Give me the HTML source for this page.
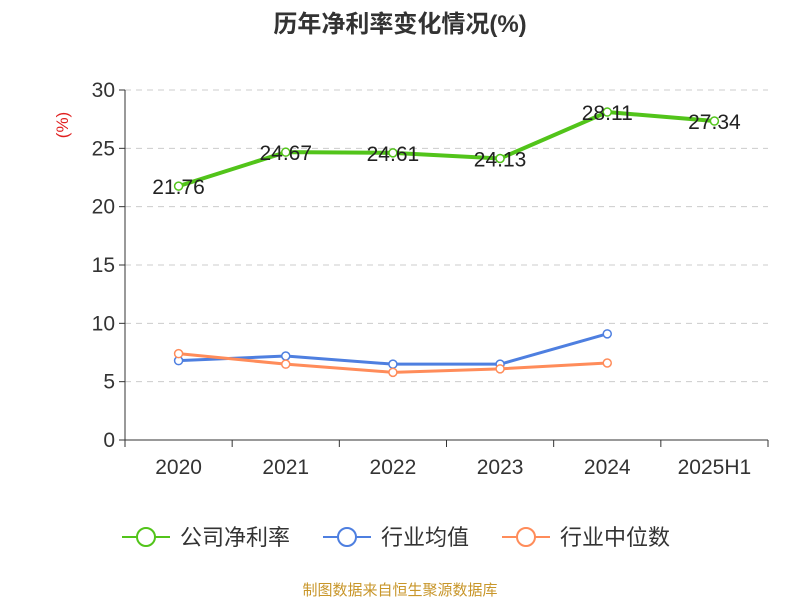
<!DOCTYPE html>
<html><head><meta charset="utf-8"><style>
body{margin:0;background:#fff;}
svg{font-family:"Liberation Sans","Noto Sans CJK SC",sans-serif;}
</style></head><body>
<svg width="800" height="600" id="chart">
<text x="400" y="32" text-anchor="middle" font-size="24" font-weight="bold" fill="#333">历年净利率变化情况(%)</text>
<text transform="translate(68,125) rotate(-90)" text-anchor="middle" font-size="17" fill="#e02020">(%)</text>
<g id="grid"></g><g id="axes"></g><g id="series"></g>
<g>
 <g><line x1="122" y1="537" x2="170" y2="537" stroke="#52c41a" stroke-width="2"/><circle cx="146" cy="537" r="9" fill="#fff" stroke="#52c41a" stroke-width="2"/><text x="180" y="545" font-size="22" fill="#333">公司净利率</text></g>
 <g><line x1="323" y1="537" x2="371" y2="537" stroke="#4e7fe0" stroke-width="2"/><circle cx="347" cy="537" r="9" fill="#fff" stroke="#4e7fe0" stroke-width="2"/><text x="381" y="545" font-size="22" fill="#333">行业均值</text></g>
 <g><line x1="502" y1="537" x2="550" y2="537" stroke="#ff8c5a" stroke-width="2"/><circle cx="526" cy="537" r="9" fill="#fff" stroke="#ff8c5a" stroke-width="2"/><text x="560" y="545" font-size="22" fill="#333">行业中位数</text></g>
</g>
<text x="400" y="595" text-anchor="middle" font-size="15" fill="#c8962a">制图数据来自恒生聚源数据库</text>
</svg>
<script>
const categories=["2020","2021","2022","2023","2024","2025H1"];
const companyValues=[21.76,24.67,24.61,24.13,28.11,27.34];
const industryAvg=[6.8,7.2,6.5,6.5,9.1];
const industryMedian=[7.4,6.5,5.8,6.1,6.6];
const yTicks=[0,5,10,15,20,25,30];
const NS="http://www.w3.org/2000/svg";
const x0=125,x1=768,y0=440,yTop=90,yMax=30;
const bw=(x1-x0)/categories.length;
const xs=i=>x0+bw*(i+0.5);
const ys=v=>y0-(v/yMax)*(y0-yTop);
function mk(t,a,p){const e=document.createElementNS(NS,t);for(const k in a)e.setAttribute(k,a[k]);p.appendChild(e);return e;}
const grid=document.getElementById('grid'),axes=document.getElementById('axes'),ser=document.getElementById('series');
yTicks.forEach(v=>{
 if(v>0){const g=mk('line',{x1:x0,x2:x1,y1:ys(v),y2:ys(v),stroke:'#ccc','stroke-dasharray':'6,5'},grid);
 
 }
 const tk=mk('line',{x1:x0-6,x2:x0,y1:ys(v),y2:ys(v),stroke:'#333'},axes);
 
 
 const t=mk('text',{x:x0-10,y:ys(v)+7,'text-anchor':'end','font-size':21,fill:'#333'},axes);t.textContent=v;
 
 
});
const ya=mk('line',{x1:x0,x2:x0,y1:yTop,y2:y0,stroke:'#333'},axes);


const xa=mk('line',{x1:x0,x2:x1,y1:y0,y2:y0,stroke:'#333'},axes);


for(let i=0;i<=categories.length;i++){const l=mk('line',{x1:x0+bw*i,x2:x0+bw*i,y1:y0,y2:y0+7,stroke:'#333'},axes);
 
 }
categories.forEach((c,i)=>{const t=mk('text',{x:xs(i),y:y0+34,'text-anchor':'middle','font-size':21,fill:'#333'},axes);t.textContent=c;
 
 });
function series(vals,color,name,labels){
 const pl=mk('polyline',{points:vals.map((v,i)=>xs(i)+','+ys(v)).join(' '),fill:'none',stroke:color,'stroke-width':labels?4:3},ser);
 
 
 vals.forEach((v,i)=>{const c=mk('circle',{cx:xs(i),cy:ys(v),r:4,fill:'#fff',stroke:color,'stroke-width':1.5},ser);
  
  
  if(labels){const t=mk('text',{x:xs(i),y:ys(v)+8,'text-anchor':'middle','font-size':21,fill:'#222'},ser);t.textContent=v.toFixed(2);
  
  }});
}
series(industryAvg,'#4e7fe0','industry-avg',false);
series(industryMedian,'#ff8c5a','industry-median',false);
series(companyValues,'#52c41a','company',true);
</script>
</body></html>
